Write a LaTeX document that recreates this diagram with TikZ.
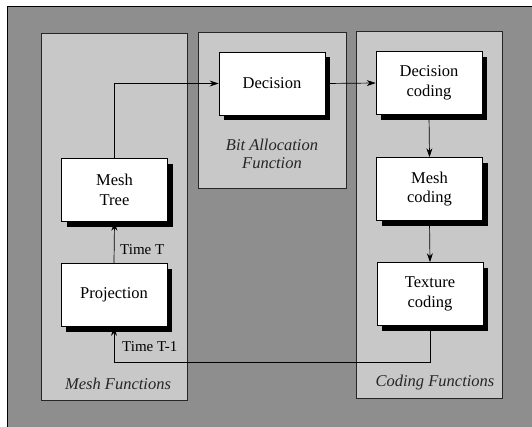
\documentclass[tikz,border=0pt]{standalone}
\usepackage{fontspec}
\setmainfont{Liberation Serif}
\usetikzlibrary{arrows.meta,shadows}

\definecolor{pagegray}{HTML}{8E8E8E}
\definecolor{panelgray}{HTML}{C8C8C8}

\tikzset{
  panel/.style={fill=panelgray, draw=black!85, line width=0.6pt},
  fnbox/.style={draw=black, line width=0.6pt, fill=white,
    minimum width=106pt, minimum height=63pt, align=center,
    font=\fontsize{16.5}{19.5}\selectfont,
    drop shadow={shadow xshift=5pt, shadow yshift=-5pt, fill=black, opacity=1}},
  flow/.style={draw=black, line width=0.7pt, -{Stealth[length=9pt,width=6pt]}},
  timelabel/.style={font=\fontsize{15}{17}\selectfont, anchor=west, inner sep=1pt},
  panellabel/.style={font=\itshape\fontsize{16.5}{18}\selectfont, align=center, text=black!85}
}

\begin{document}
\begin{tikzpicture}[x=1pt, y=-1pt]
  \useasboundingbox (0,0) rectangle (532,426);

  % page background
  \fill[pagegray, draw=black, line width=0.6pt] (7,6) rectangle (533,427);

  % functional groups
  \draw[panel] (41,33) rectangle (187,400);
  \draw[panel] (198,32) rectangle (346,188);
  \draw[panel] (356,31) rectangle (502,398);

  % processing blocks
  \node[fnbox] (tree) at (114.5,190) {Mesh\\Tree};
  \node[fnbox] (proj) at (114,295) {Projection};
  \node[fnbox] (dec)  at (272,83.5) {Decision};
  \node[fnbox] (dcod) at (429,83) {Decision\\coding};
  \node[fnbox] (mcod) at (429.5,189) {Mesh\\coding};
  \node[fnbox] (tcod) at (430,294) {Texture\\coding};

  % data flow
  \draw[flow] (tree.north) |- (dec.west);
  \draw[flow] (dec.east) -- (dcod.west);
  \draw[flow] (dcod.south) -- (mcod.north);
  \draw[flow] (mcod.south) -- (tcod.north);
  \draw[flow] (proj.north) -- (tree.south);
  \draw[flow] (tcod.south) -- ++(0,37) -| (proj.south);

  % time labels
  \node[timelabel] (tT)  at (119,250) {Time T};
  \node[timelabel] (tT1) at (121,347) {Time T-1};

  % group labels
  \node[panellabel] (lmesh) at (118,384) {Mesh Functions};
  \node[panellabel] (lbit)  at (272,154) {Bit Allocation\\Function};
  \node[panellabel] (lcod)  at (435,383) {Coding Functions};
\end{tikzpicture}
\end{document}
